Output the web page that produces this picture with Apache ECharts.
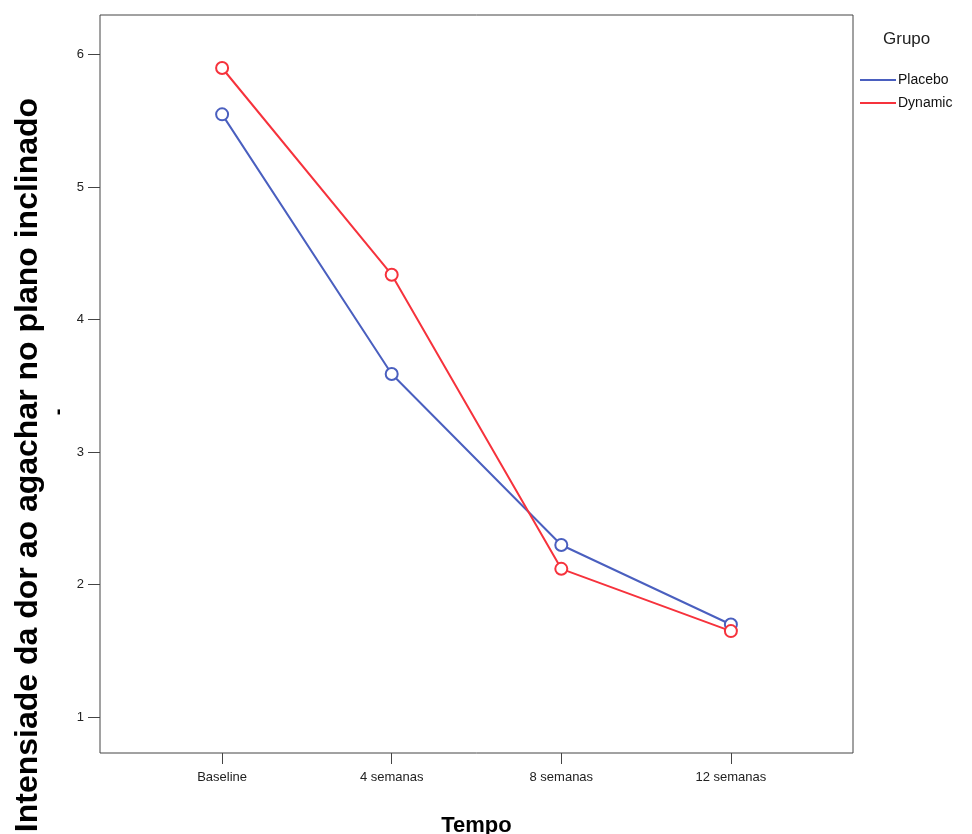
<!DOCTYPE html>
<html><head><meta charset="utf-8">
<script src="https://cdn.jsdelivr.net/npm/echarts@6/dist/echarts.min.js"></script>
<style>html,body{margin:0;padding:0;background:#fff;overflow:hidden}#c{width:972px;height:834px}</style>
</head><body><div id="c"></div>
<script>
const categories = ["Baseline", "4 semanas", "8 semanas", "12 semanas"];
const placebo = [5.55, 3.59, 2.30, 1.70];
const dynamic = [5.90, 4.34, 2.12, 1.65];
const yTicks = [1, 2, 3, 4, 5, 6];
const seriesNames = ["Placebo", "Dynamic"];
const yTitle = 'Intensiade da dor ao agachar no plano inclinado';
const xTitle = 'Tempo';

const chart = echarts.init(document.getElementById('c'), null, {renderer: 'canvas'});
const idx = categories.map((_, i) => i);
const font = 'Liberation Sans, Arial, sans-serif';
const mk = (vals) => vals.map((v, i) => [i, v]);
chart.setOption({
  backgroundColor: '#fff',
  animation: false,
  grid: {left: 100, top: 15, right: 119, bottom: 81, show: true, borderColor: '#444', borderWidth: 1,
         backgroundColor: 'transparent', containLabel: false, outerBoundsMode: 'none'},
  xAxis: {
    type: 'value', min: -0.72, max: 3.72,
    axisLine: {show: false, onZero: false},
    splitLine: {show: false},
    axisTick: {show: true, length: 11, lineStyle: {color: '#444'}, customValues: idx},
    axisLabel: {customValues: idx, formatter: v => categories[Math.round(v)], color: '#222', fontSize: 13, fontFamily: font, margin: 18},
    name: xTitle, nameLocation: 'middle', nameGap: 62,
    nameTextStyle: {fontSize: 22, fontWeight: 'bold', color: '#000', fontFamily: font}
  },
  yAxis: {
    type: 'value', min: 0.73, max: 6.30,
    axisLine: {show: false, onZero: false},
    splitLine: {show: false},
    axisTick: {show: true, length: 12, lineStyle: {color: '#444'}, customValues: yTicks},
    axisLabel: {customValues: yTicks, color: '#222', fontSize: 13, fontFamily: font, margin: 16}
  },
  legend: {
    left: 855, top: 68, orient: 'vertical', itemGap: 9,
    itemWidth: 36, itemHeight: 2,
    textStyle: {fontSize: 14, color: '#111', fontFamily: font, padding: [0,0,0,-3]},
    data: [{name: seriesNames[0], icon: 'rect'}, {name: seriesNames[1], icon: 'rect'}]
  },
  graphic: [
    {type: 'text', left: 883, top: 31, style: {text: 'Grupo', fontSize: 17, fill: '#222', fontFamily: font}},
    {type: 'text', x: 28, y: 465, rotation: Math.PI/2,
     style: {text: yTitle, fontSize: 32, fontWeight: 'bold', fill: '#000', fontFamily: font, align: 'center', verticalAlign: 'middle'}},
    {type: 'text', x: 58, y: 412, rotation: Math.PI/2,
     style: {text: '-', fontSize: 20, fontWeight: 'bold', fill: '#000', fontFamily: font, align: 'center', verticalAlign: 'middle'}}
  ],
  series: [
    {name: seriesNames[0], type: 'line', data: mk(placebo), color: '#4a5fbf',
     symbol: 'emptyCircle', symbolSize: 12, lineStyle: {width: 2, color: '#4a5fbf'},
     itemStyle: {color: '#4a5fbf', borderWidth: 1.5}},
    {name: seriesNames[1], type: 'line', data: mk(dynamic), color: '#f6323c',
     symbol: 'emptyCircle', symbolSize: 12, lineStyle: {width: 2, color: '#f6323c'},
     itemStyle: {color: '#f6323c', borderWidth: 1.5}}
  ]
});
</script></body></html>
